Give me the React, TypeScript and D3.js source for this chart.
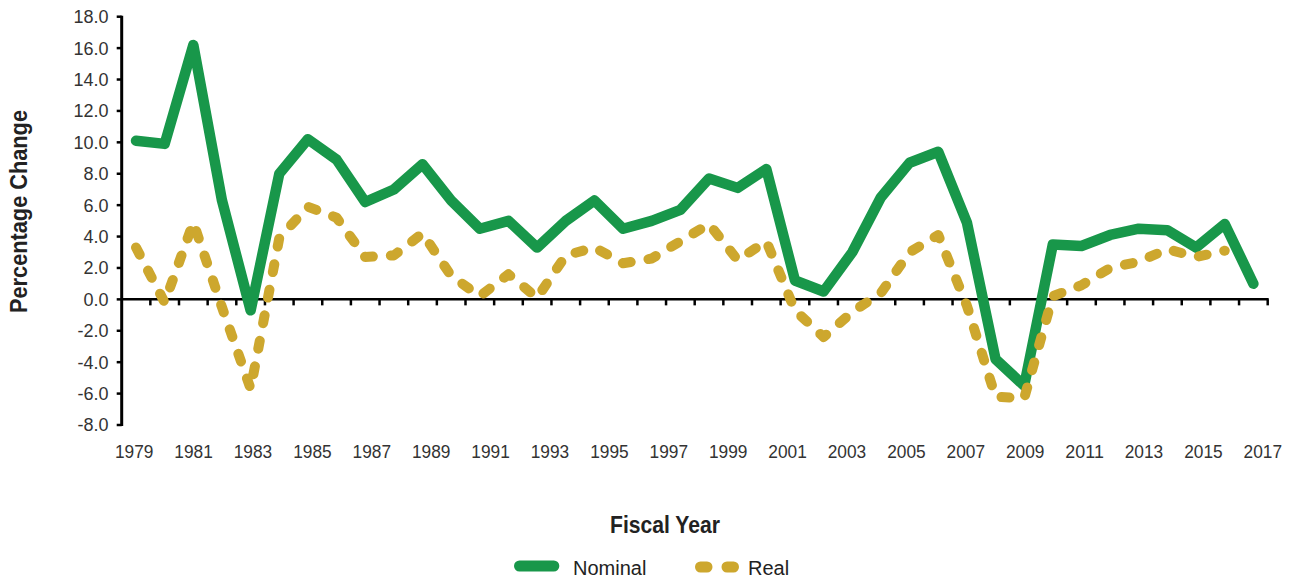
import React from "react";
import * as d3 from "d3";

const years = [
  1979, 1980, 1981, 1982, 1983, 1984, 1985, 1986, 1987, 1988,
  1989, 1990, 1991, 1992, 1993, 1994, 1995, 1996, 1997, 1998,
  1999, 2000, 2001, 2002, 2003, 2004, 2005, 2006, 2007, 2008,
  2009, 2010, 2011, 2012, 2013, 2014, 2015, 2016, 2017, 2018,
];

const nominal = [
  10.1, 9.9, 16.2, 6.3, -0.7, 8.0, 10.2, 8.9, 6.2, 7.0,
  8.6, 6.3, 4.5, 5.0, 3.3, 5.0, 6.3, 4.5, 5.0, 5.7,
  7.7, 7.1, 8.3, 1.2, 0.5, 3.0, 6.5, 8.7, 9.4, 4.9,
  -3.8, -5.5, 3.5, 3.4, 4.1, 4.5, 4.4, 3.3, 4.8, 1.0,
];

const real = [
  3.3, -0.2, 4.9, -0.5, -5.7, 3.9, 5.9, 5.2, 2.7, 2.8,
  4.2, 1.5, 0.2, 1.6, 0.1, 2.8, 3.3, 2.3, 2.6, 3.7,
  4.8, 2.5, 3.7, -0.7, -2.4, -0.8, 0.4, 3.0, 4.1, -0.4,
  -6.2, -6.3, 0.2, 0.9, 2.0, 2.4, 3.2, 2.7, 3.1, null,
];

const yTicks = [-8, -6, -4, -2, 0, 2, 4, 6, 8, 10, 12, 14, 16, 18];
const labelYears = [
  1979, 1981, 1983, 1985, 1987, 1989, 1991, 1993, 1995, 1997,
  1999, 2001, 2003, 2005, 2007, 2009, 2011, 2013, 2015, 2017,
];

const GREEN = "#18974a";
const GOLD = "#cda72e";
const FONT = "'Liberation Sans', Arial, sans-serif";

export default function App() {
  const W = 1297;
  const H = 582;
  const x0 = 121.7;
  const x1 = 1267.7;
  const xBand = d3.scaleBand<number>().domain(years).range([x0, x1]).padding(0);
  const bw = xBand.bandwidth();
  const xc = (yr: number) => (xBand(yr) as number) + bw / 2;
  const y = d3.scaleLinear().domain([-8, 18]).range([425, 16.7]);
  const labelX = d3.scalePoint<number>().domain(labelYears).range([134.2, 1262.8]);

  const nomData = years.map((yr, i) => ({ yr, v: nominal[i] }));
  const realData = years.map((yr, i) => ({ yr, v: real[i] }));
  const line = d3
    .line<{ yr: number; v: number | null }>()
    .defined((d) => d.v !== null)
    .x((d) => xc(d.yr))
    .y((d) => y(d.v as number));

  const xTickPos = years.slice(1).map((yr) => xBand(yr) as number).concat([x1]);
  const y0 = y(0);

  return (
    <svg
      width={W}
      height={H}
      style={{ position: "absolute", left: 0, top: 0, background: "#fff" }}
      fontFamily={FONT}
    >
      {/* Y axis */}
      <line x1={x0} x2={x0} y1={y(18) - 1} y2={y(-8) + 1} stroke="#000" strokeWidth={3} />
      {yTicks.map((t) => (
        <g key={t}>
          <line x1={x0 - 5} x2={x0} y1={y(t)} y2={y(t)} stroke="#000" strokeWidth={2.5} />
          <text
            x={108.5}
            y={y(t)}
            dy="0.36em"
            textAnchor="end"
            fontSize={18}
            fill="#333"
          >
            {t.toFixed(1)}
          </text>
        </g>
      ))}
      {/* X axis at zero */}
      <line x1={x0} x2={x1 + 1} y1={y0} y2={y0} stroke="#000" strokeWidth={2.5} />
      {xTickPos.map((p, i) => (
        <line key={i} x1={p} x2={p} y1={y0} y2={y0 + 6} stroke="#000" strokeWidth={2.5} />
      ))}
      {labelYears.map((yr) => (
        <text
          key={yr}
          x={labelX(yr)}
          y={458}
          textAnchor="middle"
          fontSize={18}
          fill="#333"
          textLength={38.5}
          lengthAdjust="spacingAndGlyphs"
        >
          {yr}
        </text>
      ))}

      {/* Series */}
      <path
        d={line(nomData) || ""}
        fill="none"
        stroke={GREEN}
        strokeWidth={10.5}
        strokeLinejoin="round"
        strokeLinecap="round"
      />
      <path
        d={line(realData) || ""}
        fill="none"
        stroke={GOLD}
        strokeWidth={10}
        strokeLinejoin="round"
        strokeLinecap="round"
        strokeDasharray="8 18"
      />

      {/* Axis titles */}
      <text
        transform="translate(27,211.5) rotate(-90)"
        textAnchor="middle"
        fontSize={24}
        fontWeight="bold"
        fill="#222"
        textLength={203}
        lengthAdjust="spacingAndGlyphs"
      >
        Percentage Change
      </text>
      <text
        x={665}
        y={533}
        textAnchor="middle"
        fontSize={24}
        fontWeight="bold"
        fill="#222"
        textLength={110}
        lengthAdjust="spacingAndGlyphs"
      >
        Fiscal Year
      </text>

      {/* Legend */}
      <line x1={519.5} x2={553.8} y1={566} y2={566} stroke={GREEN} strokeWidth={11} strokeLinecap="round" />
      <text x={573} y={575} fontSize={20} fill="#222">
        Nominal
      </text>
      <line
        x1={700.5}
        x2={734}
        y1={567}
        y2={567}
        stroke={GOLD}
        strokeWidth={11}
        strokeLinecap="round"
        strokeDasharray="6.5 20"
      />
      <text x={748} y={575} fontSize={20} fill="#222">
        Real
      </text>
    </svg>
  );
}
